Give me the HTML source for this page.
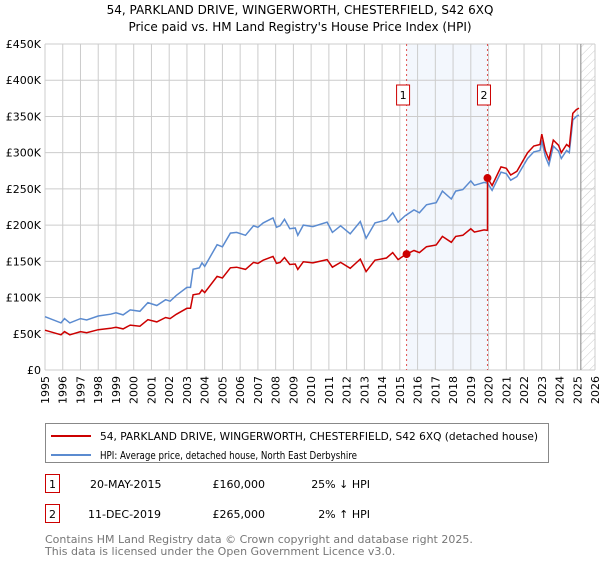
<!DOCTYPE html>
<html><head><meta charset="utf-8"><style>
body{margin:0;background:#fff;font-family:"DejaVu Sans","Liberation Sans",sans-serif;}
svg text{font-family:"DejaVu Sans","Liberation Sans",sans-serif;}
</style></head><body>
<svg id="chart" width="600" height="560" viewBox="0 0 600 560" xmlns="http://www.w3.org/2000/svg">
<defs><pattern id="hatch" width="6" height="6" patternUnits="userSpaceOnUse" patternTransform="rotate(45)"><line x1="0" y1="0" x2="0" y2="6" stroke="#ccc" stroke-width="1"/></pattern></defs>
<text x="300" y="14" text-anchor="middle" font-size="12">54, PARKLAND DRIVE, WINGERWORTH, CHESTERFIELD, S42 6XQ</text>
<text x="300" y="31" text-anchor="middle" font-size="12">Price paid vs. HM Land Registry's House Price Index (HPI)</text>
<g id="grid"></g><g id="marks"></g><g id="axes"></g>
<rect x="45.5" y="423.5" width="503" height="39" fill="#fff" stroke="#888"/>
<line x1="51" y1="436" x2="91" y2="436" stroke="#cc0000" stroke-width="2"/>
<text x="100" y="440" font-size="10.5" textLength="438" lengthAdjust="spacingAndGlyphs">54, PARKLAND DRIVE, WINGERWORTH, CHESTERFIELD, S42 6XQ (detached house)</text>
<line x1="51" y1="455" x2="91" y2="455" stroke="#5b8bd0" stroke-width="2"/>
<text x="100" y="459" font-size="10.5" textLength="257" lengthAdjust="spacingAndGlyphs">HPI: Average price, detached house, North East Derbyshire</text>
<g font-size="11">
<rect x="45.5" y="474.5" width="14" height="18" fill="#fff" stroke="#cc0000"/><text x="52.5" y="488" text-anchor="middle">1</text>
<text x="90" y="488">20-MAY-2015</text><text x="265" y="488" text-anchor="end">£160,000</text><text x="370" y="488" text-anchor="end">25% ↓ HPI</text></g>
<g font-size="11">
<rect x="45.5" y="504.5" width="14" height="18" fill="#fff" stroke="#cc0000"/><text x="52.5" y="518" text-anchor="middle">2</text>
<text x="88" y="518">11-DEC-2019</text><text x="265" y="518" text-anchor="end">£265,000</text><text x="370" y="518" text-anchor="end">2% ↑ HPI</text></g>
<text x="45" y="543" font-size="11" fill="#777">Contains HM Land Registry data © Crown copyright and database right 2025.</text>
<text x="45" y="555" font-size="11" fill="#777">This data is licensed under the Open Government Licence v3.0.</text>
</svg>
<script>
const hpiYears=[1995,1995.9,1996.1,1996.4,1997,1997.35,1998,1998.7,1999,1999.4,1999.8,2000.35,2000.8,2001.3,2001.8,2002.05,2002.4,2003,2003.2,2003.35,2003.7,2003.85,2004,2004.7,2005,2005.45,2005.8,2006.3,2006.75,2007,2007.3,2007.85,2008.05,2008.25,2008.5,2008.8,2009.1,2009.25,2009.56,2010.1,2010.9,2011.2,2011.66,2012.2,2012.77,2013.1,2013.6,2014.25,2014.6,2014.9,2015.3,2015.8,2016.1,2016.5,2016.85,2017.05,2017.4,2017.9,2018.15,2018.55,2019,2019.2,2019.75,2019.94,2020.2,2020.7,2021,2021.25,2021.6,2022.2,2022.55,2022.9,2023,2023.2,2023.4,2023.65,2023.95,2024.1,2024.4,2024.55,2024.75,2024.95,2025.1];
const hpiValues=[73.6,65,71,65,71,69,74.5,77,79,76,83,81,93,89,97,95,103,114,114,139,141,148,143,173,170,189,190,186,199,197,203,210,197,199,208,195,196,186,200,198,204,190,199,188,205,182,203,207,217,204,213,221,217,228,230,231,247,236,247,249,261,255,259,258,248,273,271,262,267,292,301,303,317,295,283,309,302,292,303,300,345,350,352];
const saleYears=[2015.38,2019.94];
const saleValues=[160,265];
const yTicks=[0,50,100,150,200,250,300,350,400,450];
const xTicks=[1995,1996,1997,1998,1999,2000,2001,2002,2003,2004,2005,2006,2007,2008,2009,2010,2011,2012,2013,2014,2015,2016,2017,2018,2019,2020,2021,2022,2023,2024,2025,2026];
const dataEnd=2025.2;
const L=45,R=595,T=44,B=370,x0=1995,x1=2026,ymax=450;
const X=v=>L+(v-x0)/(x1-x0)*(R-L);
const Y=v=>B-v/ymax*(B-T);
const NS="http://www.w3.org/2000/svg";
function mk(parent,tag,attrs){const e=document.createElementNS(NS,tag);for(const k in attrs)e.setAttribute(k,attrs[k]);document.getElementById(parent).appendChild(e);return e;}
function hpiAt(t){for(let i=1;i<hpiYears.length;i++){if(t<=hpiYears[i]){const f=(t-hpiYears[i-1])/(hpiYears[i]-hpiYears[i-1]);return hpiValues[i-1]+f*(hpiValues[i]-hpiValues[i-1]);}}return hpiValues[hpiValues.length-1];}
let e=mk('grid','rect',{x:X(saleYears[0]),y:T,width:X(saleYears[1])-X(saleYears[0]),height:B-T,fill:'#eef3fc',opacity:0.7});


e=mk('grid','rect',{x:X(dataEnd),y:T,width:R-X(dataEnd),height:B-T,fill:'url(#hatch)'});


xTicks.forEach(t=>{const g=mk('grid','line',{x1:X(t),x2:X(t),y1:T,y2:B,stroke:'#ccc','stroke-width':1});


const l=mk('axes','text',{x:0,y:0,'font-size':11,'text-anchor':'end',transform:`translate(${X(t)+4},${B+6}) rotate(-90)`});l.textContent=t;

});
yTicks.forEach(t=>{const g=mk('grid','line',{x1:L,x2:R,y1:Y(t),y2:Y(t),stroke:'#ccc','stroke-width':1});


const l=mk('axes','text',{x:L-4,y:Y(t)+4,'font-size':11,'text-anchor':'end'});l.textContent=t===0?'£0':'£'+t+'K';

});
e=mk('grid','line',{x1:X(dataEnd),x2:X(dataEnd),y1:T,y2:B,stroke:'#999','stroke-width':1.2});


saleYears.forEach((s,i)=>{const v=mk('grid','line',{x1:X(s),x2:X(s),y1:T,y2:B,stroke:'#e05050','stroke-width':1,'stroke-dasharray':'2,3'});


const r=mk('marks','rect',{x:X(s)-10,y:85,width:13,height:20,fill:'#fff',stroke:'#cc0000'});


const tx=mk('marks','text',{x:X(s)-3.5,y:99,'font-size':11,'text-anchor':'middle'});tx.textContent=i+1;

});
const hp=mk('marks','path',{d:hpiYears.map((t,i)=>(i?'L':'M')+X(t).toFixed(1)+','+Y(hpiValues[i]).toFixed(1)).join(''),fill:'none',stroke:'#5b8bd0','stroke-width':1.5});


const r1=saleValues[0]/hpiAt(saleYears[0]),r2=saleValues[1]/hpiAt(saleYears[1]);
let pts=[];hpiYears.forEach((t,i)=>{if(t<saleYears[1])pts.push([t,hpiValues[i]*r1]);});
pts.push([saleYears[1],hpiAt(saleYears[1])*r1]);pts.push([saleYears[1],saleValues[1]]);
hpiYears.forEach((t,i)=>{if(t>saleYears[1])pts.push([t,hpiValues[i]*r2]);});
const pp=mk('marks','path',{d:pts.map((p,i)=>(i?'L':'M')+X(p[0]).toFixed(1)+','+Y(p[1]).toFixed(1)).join(''),fill:'none',stroke:'#cc0000','stroke-width':1.5});


saleYears.forEach((s,i)=>{const c=mk('marks','circle',{cx:X(s),cy:Y(saleValues[i]),r:4,fill:'#cc0000'});

});
</script>
</body></html>
